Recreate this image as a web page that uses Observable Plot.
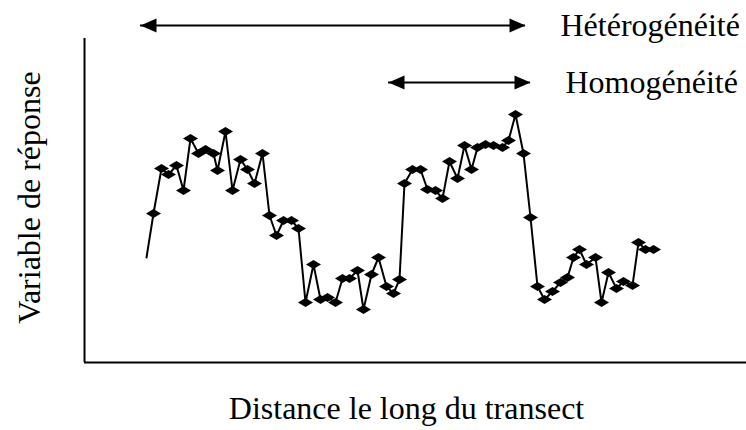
<!DOCTYPE html>
<html>
<head>
<meta charset="utf-8">
<script src="https://cdn.jsdelivr.net/npm/d3@7"></script>
<script src="https://cdn.jsdelivr.net/npm/@observablehq/plot@0.6"></script>
<style>
  html, body { margin: 0; padding: 0; background: #fff; }
  svg { overflow: visible; }
</style>
</head>
<body>
<div id="chart"></div>
<script>
// Distance along the transect (arbitrary units)
const distance = [62,69,77,84,92,99,106,114,121,129,133,141,148,156,163,170,178,185,192,199,
  207,214,221,229,236,243,251,258,265,273,279,287,294,302,309,315,320,328,336,343,
  351,358,365,373,380,387,393,401,409,418,424,431,439,446,453,460,468,476,483,489,
  495,502,511,517,524,532,539,548,554,561,569];
// Response variable (arbitrary units)
const response = [105,149,194,188,197,172,224,209,213,209,192,231,172,203,193,179,209,147,127,142,
  142,134,60,98,63,65,60,84,84,92,53,88,105,76,69,83,179,193,193,173,
  172,164,201,184,217,193,215,218,217,215,222,248,209,145,76,63,71,80,85,105,
  113,98,105,60,90,74,81,77,120,113,113];

// Annotated ranges
const rangeLabels = ["Hétérogénéité", "Homogénéité"];
const rangeStart = [56, 304];
const rangeEnd = [441, 446];
const rangeLevel = [337, 280];

const xTitle = "Distance le long du transect";
const yTitle = "Variable de réponse";

const points = distance.map((d, i) => ({distance: d, response: response[i], i}));
const ranges = rangeLabels.map((label, i) => ({label, x1: rangeStart[i], x2: rangeEnd[i], y: rangeLevel[i]}));

const flatDiamond = {draw(ctx) { ctx.moveTo(-7.5, 0); ctx.lineTo(0, -4.5); ctx.lineTo(7.5, 0); ctx.lineTo(0, 4.5); ctx.closePath(); }};
const headLeft = {draw(ctx) { ctx.moveTo(0, 0); ctx.lineTo(16, -7); ctx.lineTo(16, 7); ctx.closePath(); }};
const headRight = {draw(ctx) { ctx.moveTo(0, 0); ctx.lineTo(-16, -7); ctx.lineTo(-16, 7); ctx.closePath(); }};

const font = "'Liberation Serif', 'Times New Roman', serif";

const chart = Plot.plot({
  width: 746,
  height: 430,
  marginLeft: 84,
  marginRight: 0,
  marginTop: 38,
  marginBottom: 68,
  style: {fontFamily: font, background: "#fff", overflow: "visible"},
  x: {domain: [0, 662], axis: null},
  y: {domain: [0, 324], axis: null},
  marks: [
    Plot.ruleX([0], {stroke: "#000", strokeWidth: 2}),
    Plot.ruleY([0], {stroke: "#000", strokeWidth: 2}),
    Plot.line(points, {x: "distance", y: "response", stroke: "#000", strokeWidth: 2}),
    Plot.dot(points, {x: "distance", y: "response", filter: d => d.i > 0, symbol: flatDiamond, fill: "#000", stroke: "none"}),
    Plot.ruleY(ranges, {x1: "x1", x2: "x2", y: "y", stroke: "#000", strokeWidth: 2}),
    Plot.dot(ranges, {x: "x1", y: "y", symbol: headLeft, fill: "#000", stroke: "none"}),
    Plot.dot(ranges, {x: "x2", y: "y", symbol: headRight, fill: "#000", stroke: "none"}),
    Plot.text(ranges, {x: "x2", y: "y", text: "label", textAnchor: "start", dx: 35, fontSize: 32, fill: "#000", fontFamily: font}),
    Plot.text([xTitle], {frameAnchor: "bottom", textAnchor: "middle", dx: -9, dy: 56, fontSize: 32, fill: "#000", fontFamily: font}),
    Plot.text([yTitle], {frameAnchor: "left", textAnchor: "middle", rotate: -90, dx: -55, dy: -3, fontSize: 32, fill: "#000", fontFamily: font})
  ]
});
document.getElementById("chart").appendChild(chart);
</script>
</body>
</html>
